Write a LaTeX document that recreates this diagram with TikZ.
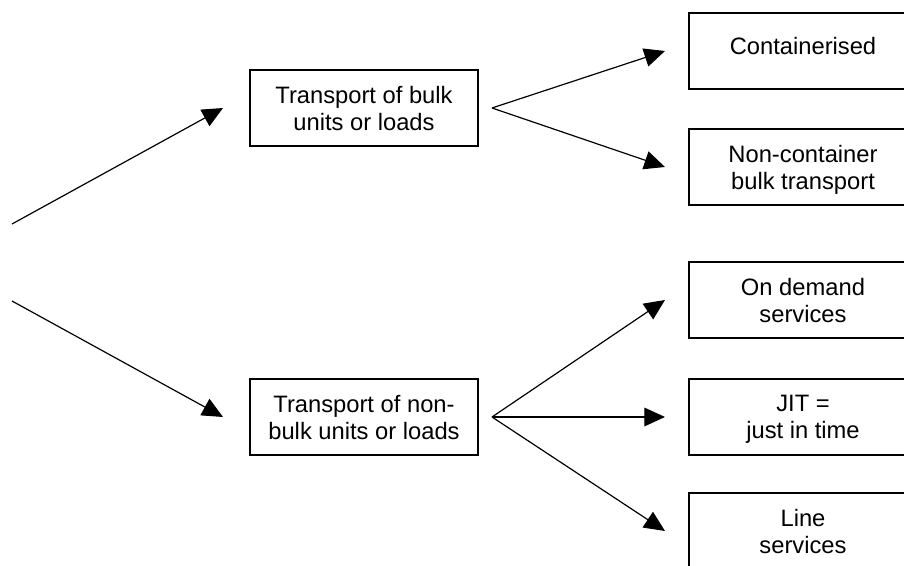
\documentclass[tikz,border=0pt]{standalone}
\usepackage{fontspec}
\setmainfont{Liberation Sans}
\usetikzlibrary{arrows.meta,positioning}

\begin{document}
\begin{tikzpicture}[
      x=0.75pt,y=-0.75pt,
      font=\fontsize{17.8pt}{20.25pt}\selectfont,
      box/.style={draw=black,line width=1.1pt,minimum width=171pt,minimum height=57pt,
                  inner sep=2pt,outer sep=0pt,align=center,text depth=0pt},
      arr/.style={-{Triangle[length=15.5pt,width=14pt]},line width=0.9pt,black}]
    \clip (0,0) rectangle (904,566);
    \node[box] (bulk) at (364,108) {Transport of bulk\\units or loads};
    \node[box,below=174.75pt of bulk] (nonbulk) {Transport of non-\\bulk units or loads};
    \node[box,right=158.25pt of nonbulk] (jit) {JIT =\\just in time};
    \node[box,above=30.75pt of jit] (demand) {On demand\\services};
    \node[box,below=28.5pt of jit] (line) {Line\\services};
    \node[box,above=42.75pt of demand] (noncont) {Non-container\\bulk transport};
    \node[box,above=30pt of noncont] (cont) {\raisebox{4pt}[\height][\depth]{Containerised}};
    \coordinate (in1) at (12,224);
    \coordinate (in2) at (12,301);
    \coordinate (fb) at ([xshift=10.5pt]bulk.east);
    \coordinate (fn) at ([xshift=10.5pt]nonbulk.east);
    \draw[arr] (in1) -- ([xshift=-20.25pt]bulk.west);
    \draw[arr] (in2) -- ([xshift=-20.25pt]nonbulk.west);
    \draw[arr] (fb) -- ([xshift=-18pt]cont.west);
    \draw[arr] (fb) -- ([xshift=-18pt]noncont.west);
    \draw[arr] (fn) -- ([xshift=-18pt]demand.west);
    \draw[arr] (fn) -- ([xshift=-18pt]jit.west);
    \draw[arr] (fn) -- ([xshift=-18pt]line.west);
  \end{tikzpicture}
\end{document}
